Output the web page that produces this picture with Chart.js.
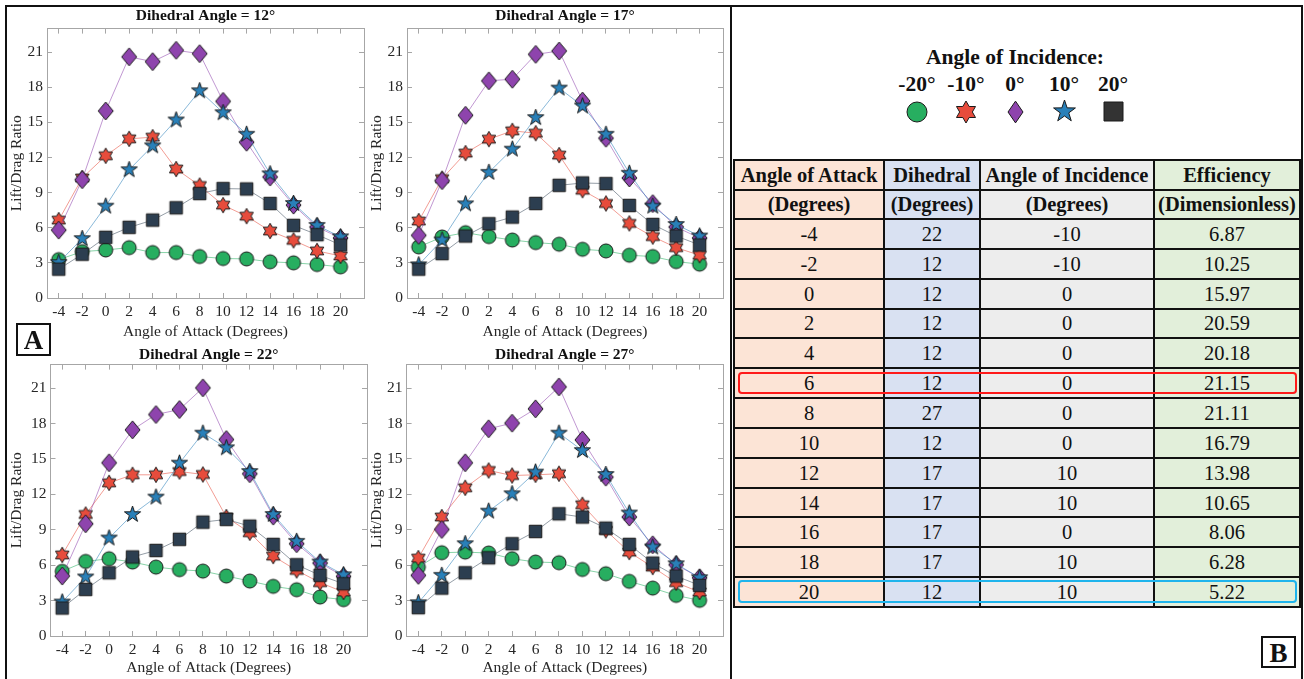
<!DOCTYPE html>
<html>
<head>
<meta charset="utf-8">
<script src="https://cdn.jsdelivr.net/npm/chart.js@4"></script>
<style>
  body { margin: 0; background: #fff; }
  #page { position: relative; width: 1304px; height: 679px; overflow: hidden; font-family: "Liberation Serif", "Times New Roman", serif; color: #111; }
  canvas.plot { position: absolute; }
  .line { position: absolute; background: #111; }
  .tag { position: absolute; border: 2px solid #111; box-sizing: border-box; font-weight: bold; font-size: 27px; text-align: center; line-height: 30px; }
  #legend { position: absolute; left: 880px; top: 44px; width: 270px; text-align: center; font-weight: bold; }
  #legend .head { font-size: 21.5px; line-height: 27px; }
  #legend .row { display: flex; justify-content: center; }
  #legend .row div { width: 49px; text-align: center; }
  #legend .labels div { font-size: 21.5px; line-height: 27px; }
  #legend .marks div { height: 27px; display: flex; align-items: center; justify-content: center; }
  #tbl { position: absolute; left: 733px; top: 159px; width: 566px; border-collapse: collapse; table-layout: fixed; font-size: 20.5px; }
  #tbl td { border: 2px solid #111; padding: 0; text-align: center; line-height: 20px; }
  #tbl tr.h td { height: 27.5px; font-weight: bold; }
  #tbl tr.d td { height: 27.85px; }
  .c1 { background: #fce4d6; }
  .c2 { background: #d9e1f2; }
  .c3 { background: #ededed; }
  .c4 { background: #e2efda; }
  .hl { position: absolute; box-sizing: border-box; border-radius: 4px; border: 2px solid; }
</style>
</head>
<body>
<div id="page">
  <div class="line" style="left:5px; top:5px; width:1298px; height:2px;"></div>
  <div class="line" style="left:5px; top:5px; width:2px; height:680px;"></div>
  <div class="line" style="left:730px; top:5px; width:2px; height:680px;"></div>
  <div class="line" style="left:1301px; top:5px; width:2px; height:680px;"></div>

  <canvas id="chart12" class="plot" width="372" height="345" style="left:0px; top:0px;"></canvas>
  <canvas id="chart17" class="plot" width="366" height="345" style="left:365px; top:0px;"></canvas>
  <canvas id="chart22" class="plot" width="375" height="341" style="left:0px; top:338px;"></canvas>
  <canvas id="chart27" class="plot" width="366" height="341" style="left:365px; top:338px;"></canvas>

  <div class="tag" style="left:16px; top:323px; width:35px; height:33px;">A</div>
  <div class="tag" style="left:1261px; top:636px; width:35px; height:32px;">B</div>

  <div id="legend">
    <div class="head">Angle of Incidence:</div>
    <div class="row labels" id="legendLabels"></div>
    <div class="row marks" id="legendMarks"></div>
  </div>

  <table id="tbl"></table>
  <div class="hl" style="left:738px; top:372px; width:559px; height:22px; border-color:#ff1a1a;"></div>
  <div class="hl" style="left:738px; top:580px; width:559px; height:23px; border-color:#1fb4ec;"></div>
</div>

<script>
// angle of attack (x) and tick values
const aoa = [-4, -2, 0, 2, 4, 6, 8, 10, 12, 14, 16, 18, 20];
const yTicks = [0, 3, 6, 9, 12, 15, 18, 21];
const incidenceLabels = ["-20°", "-10°", "0°", "10°", "20°"];

// Dihedral 12
const green12  = [3.28, 3.96, 4.10, 4.30, 3.88, 3.88, 3.54, 3.37, 3.34, 3.09, 3.00, 2.86, 2.66];
const red12    = [6.65, 10.25, 12.14, 13.59, 13.73, 11.01, 9.60, 7.93, 6.99, 5.72, 4.92, 4.02, 3.59];
const purple12 = [5.80, 10.10, 15.97, 20.59, 20.18, 21.15, 20.86, 16.79, 13.30, 10.33, 7.93, 6.06, 5.12];
const blue12   = [3.03, 5.07, 7.84, 10.95, 12.99, 15.20, 17.69, 15.82, 13.98, 10.60, 8.07, 6.20, 5.22];
const square12 = [2.46, 3.74, 5.18, 6.03, 6.65, 7.70, 8.92, 9.34, 9.31, 8.07, 6.20, 5.41, 4.53];

// Dihedral 17
const green17  = [4.36, 5.21, 5.58, 5.24, 4.95, 4.73, 4.59, 4.16, 4.02, 3.65, 3.54, 3.11, 2.89];
const red17    = [6.57, 10.19, 12.37, 13.56, 14.27, 14.07, 12.20, 9.20, 8.07, 6.37, 5.24, 4.30, 3.65];
const purple17 = [5.35, 10.02, 15.60, 18.54, 18.68, 20.80, 21.09, 16.81, 13.64, 10.25, 8.06, 6.06, 5.12];
const blue17   = [2.83, 4.95, 8.04, 10.73, 12.71, 15.40, 17.92, 16.39, 13.98, 10.65, 7.84, 6.28, 5.29];
const square17 = [2.46, 3.79, 5.29, 6.34, 6.91, 8.07, 9.62, 9.82, 9.77, 7.90, 6.28, 5.29, 4.53];

// Dihedral 22
const green22  = [5.48, 6.32, 6.55, 6.27, 5.84, 5.62, 5.50, 5.08, 4.66, 4.21, 3.92, 3.30, 3.08];
const red22    = [6.87, 10.30, 12.98, 13.66, 13.66, 13.94, 13.69, 10.08, 8.75, 6.77, 5.56, 4.52, 3.73];
const purple22 = [5.08, 9.51, 14.68, 17.47, 18.77, 19.19, 21.03, 16.65, 13.75, 10.16, 7.82, 6.18, 5.05];
const blue22   = [2.88, 5.00, 8.30, 10.30, 11.77, 14.65, 17.19, 15.95, 13.94, 10.30, 8.02, 6.27, 5.19];
const square22 = [2.37, 3.95, 5.36, 6.70, 7.25, 8.19, 9.65, 9.88, 9.31, 7.76, 6.04, 5.14, 4.43];

// Dihedral 27
const green27  = [5.84, 7.06, 7.11, 7.03, 6.55, 6.27, 6.21, 5.64, 5.28, 4.63, 4.06, 3.44, 3.02];
const red27    = [6.60, 10.08, 12.56, 14.03, 13.60, 13.66, 13.75, 11.12, 8.95, 7.11, 5.84, 4.52, 3.73];
const purple27 = [5.14, 9.03, 14.68, 17.56, 18.04, 19.25, 21.11, 16.62, 13.46, 10.08, 7.73, 6.04, 4.94];
const blue27   = [2.82, 5.14, 7.82, 10.58, 12.05, 13.89, 17.19, 15.72, 13.69, 10.42, 7.54, 6.12, 4.94];
const square27 = [2.40, 4.06, 5.36, 6.63, 7.82, 8.86, 10.36, 10.08, 9.14, 7.76, 6.18, 5.08, 4.29];

// table B
const tableAoa = [-4, -2, 0, 2, 4, 6, 8, 10, 12, 14, 16, 18, 20];
const tableDihedral = [22, 12, 12, 12, 12, 12, 27, 12, 17, 17, 17, 17, 12];
const tableIncidence = [-10, -10, 0, 0, 0, 0, 0, 0, 10, 10, 0, 10, 10];
const tableEfficiency = ["6.87", "10.25", "15.97", "20.59", "20.18", "21.15", "21.11", "16.79", "13.98", "10.65", "8.06", "6.28", "5.22"];

const serif = "'Liberation Serif', 'Times New Roman', serif";
const axisGray = "#a6a6a6";
const textColor = "#262626";
const fills = ["#27ae60", "#e74c3c", "#8e44ad", "#2980b9", "#2c3e50"];
const lineColors = ["rgba(39,174,96,0.55)", "rgba(231,76,60,0.55)", "rgba(142,68,173,0.55)", "rgba(41,128,185,0.55)", "rgba(44,62,80,0.5)"];
const kinds = ["circle", "hexagram", "diamond", "pentagram", "square"];
const drawOrder = [5, 4, 3, 2, 1];

function starPath(g, cx, cy, n, r1, r2){
  for (let k = 0; k < n * 2; k++){
    let ang = -Math.PI / 2 + k * Math.PI / n;
    let r = k % 2 === 0 ? r1 : r2;
    let px = cx + r * Math.cos(ang), py = cy + r * Math.sin(ang);
    if (k === 0) g.moveTo(px, py); else g.lineTo(px, py);
  }
  g.closePath();
}

function markerCanvas(kind, size, fill, stretch){
  let c = document.createElement("canvas");
  let r = size / 2;
  let w = Math.ceil(size) + 4;
  let h = kind === "diamond" ? Math.ceil(size * stretch) + 4 : w;
  c.width = w; c.height = h;
  let g = c.getContext("2d");
  let cx = w / 2, cy = h / 2;
  g.beginPath();
  if (kind === "circle") g.arc(cx, cy, r, 0, Math.PI * 2);
  if (kind === "square") g.rect(cx - r, cy - r, size, size);
  if (kind === "diamond"){
    g.moveTo(cx, cy - r * stretch); g.lineTo(cx + r, cy);
    g.lineTo(cx, cy + r * stretch); g.lineTo(cx - r, cy); g.closePath();
  }
  if (kind === "hexagram") starPath(g, cx, cy, 6, r, r / Math.sqrt(3));
  if (kind === "pentagram") starPath(g, cx, cy, 5, r, r * 0.39);
  g.fillStyle = fill; g.fill();
  g.lineWidth = 1; g.strokeStyle = "#1a1a1a"; g.stroke();
  return c;
}

const plotSizes = [14, 15.5, 15, 17, 12.5];
const plotMarkers = kinds.map((k, i) => markerCanvas(k, plotSizes[i], fills[i], 1.2));

function buildChart(id, dihedral, series, box){
  let scaleFont = {family: serif, size: 15.5};
  let sideAxis = (axis, position, fit) => ({
    type: "linear", axis: axis, position: position,
    min: axis === "x" ? -5 : 0, max: axis === "x" ? 22 : 23,
    afterBuildTicks: s => { s.ticks = (axis === "x" ? aoa : yTicks).map(v => ({value: v})); },
    afterFit: fit,
    border: {display: true, color: axisGray, width: 1},
    grid: {drawOnChartArea: false, tickLength: -5, color: axisGray, tickColor: axisGray},
    ticks: {display: false}
  });
  new Chart(document.getElementById(id), {
    type: "line",
    data: {
      datasets: series.map((vals, i) => ({
        label: incidenceLabels[i],
        data: aoa.map((a, j) => ({x: a, y: vals[j]})),
        borderColor: lineColors[i],
        borderWidth: 1,
        pointStyle: plotMarkers[i],
        pointRadius: 7,
        order: drawOrder[i],
        clip: false
      }))
    },
    options: {
      responsive: false,
      animation: false,
      layout: {padding: {left: 0, right: box.padR, top: 0, bottom: 0}},
      plugins: {
        legend: {display: false},
        tooltip: {enabled: false},
        title: {
          display: true, fullSize: false,
          text: "Dihedral Angle = " + dihedral + "°",
          color: "#111",
          font: {family: serif, size: 15.5, weight: "bold"},
          padding: box.titlePad
        }
      },
      scales: {
        x: {
          type: "linear", position: "bottom", min: -5, max: 22,
          afterBuildTicks: s => { s.ticks = aoa.map(v => ({value: v})); },
          afterFit: s => { s.height = box.xH; },
          border: {display: true, color: axisGray, width: 1},
          grid: {drawOnChartArea: false, tickLength: -5, color: axisGray, tickColor: axisGray},
          ticks: {font: scaleFont, color: textColor, padding: 10, maxRotation: 0, autoSkip: false},
          title: {display: true, text: "Angle of Attack (Degrees)", color: textColor, font: scaleFont, padding: {top: 0, bottom: box.xtPad}}
        },
        y: {
          type: "linear", position: "left", min: 0, max: 23,
          afterBuildTicks: s => { s.ticks = yTicks.map(v => ({value: v})); },
          afterFit: s => { s.width = box.yW; },
          border: {display: true, color: axisGray, width: 1},
          grid: {drawOnChartArea: false, tickLength: -5, color: axisGray, tickColor: axisGray},
          ticks: {font: scaleFont, color: textColor, padding: 9, autoSkip: false},
          title: {display: true, text: "Lift/Drag Ratio", color: textColor, font: scaleFont, padding: {top: box.ytPad, bottom: 0}}
        },
        x2: sideAxis("x", "top", s => { s.height = 0; }),
        y2: sideAxis("y", "right", s => { s.width = 0; })
      }
    }
  });
}

buildChart("chart12", 12, [green12, red12, purple12, blue12, square12],
  {padR: 7, yW: 47, xH: 47, xtPad: 3.7, ytPad: 7.7, titlePad: {top: 7, bottom: 3}});
buildChart("chart17", 17, [green17, red17, purple17, blue17, square17],
  {padR: 7, yW: 42, xH: 47, xtPad: 3.7, ytPad: 2.7, titlePad: {top: 7, bottom: 3}});
buildChart("chart22", 22, [green22, red22, purple22, blue22, square22],
  {padR: 6.5, yW: 50.5, xH: 43, xtPad: 1.7, ytPad: 7.7, titlePad: {top: 8, bottom: 0}});
buildChart("chart27", 27, [green27, red27, purple27, blue27, square27],
  {padR: 7.5, yW: 41.6, xH: 43, xtPad: 1.7, ytPad: 2.7, titlePad: {top: 8, bottom: 0}});

// legend
const legendSizes = [20, 22, 15, 23, 19];
const legendFills = ["#27ae60", "#e74c3c", "#8e44ad", "#2980b9", "#333333"];
document.getElementById("legendLabels").innerHTML = incidenceLabels.map(l => `<div>${l}</div>`).join("");
let marks = document.getElementById("legendMarks");
kinds.forEach((k, i) => {
  let cell = document.createElement("div");
  cell.appendChild(markerCanvas(k, legendSizes[i], legendFills[i], 1.45));
  marks.appendChild(cell);
});

// table
document.getElementById("tbl").innerHTML = `
  <colgroup><col style="width:150px"><col style="width:96px"><col style="width:174px"><col style="width:146px"></colgroup>
  <tr class="h"><td class="c1">Angle of Attack</td><td class="c2">Dihedral</td><td class="c3">Angle of Incidence</td><td class="c4">Efficiency</td></tr>
  <tr class="h"><td class="c1">(Degrees)</td><td class="c2">(Degrees)</td><td class="c3">(Degrees)</td><td class="c4">(Dimensionless)</td></tr>
  ${tableAoa.map((a, i) => `
  <tr class="d"><td class="c1">${a}</td><td class="c2">${tableDihedral[i]}</td><td class="c3">${tableIncidence[i]}</td><td class="c4">${tableEfficiency[i]}</td></tr>`).join("")}
`;
</script>
</body>
</html>
